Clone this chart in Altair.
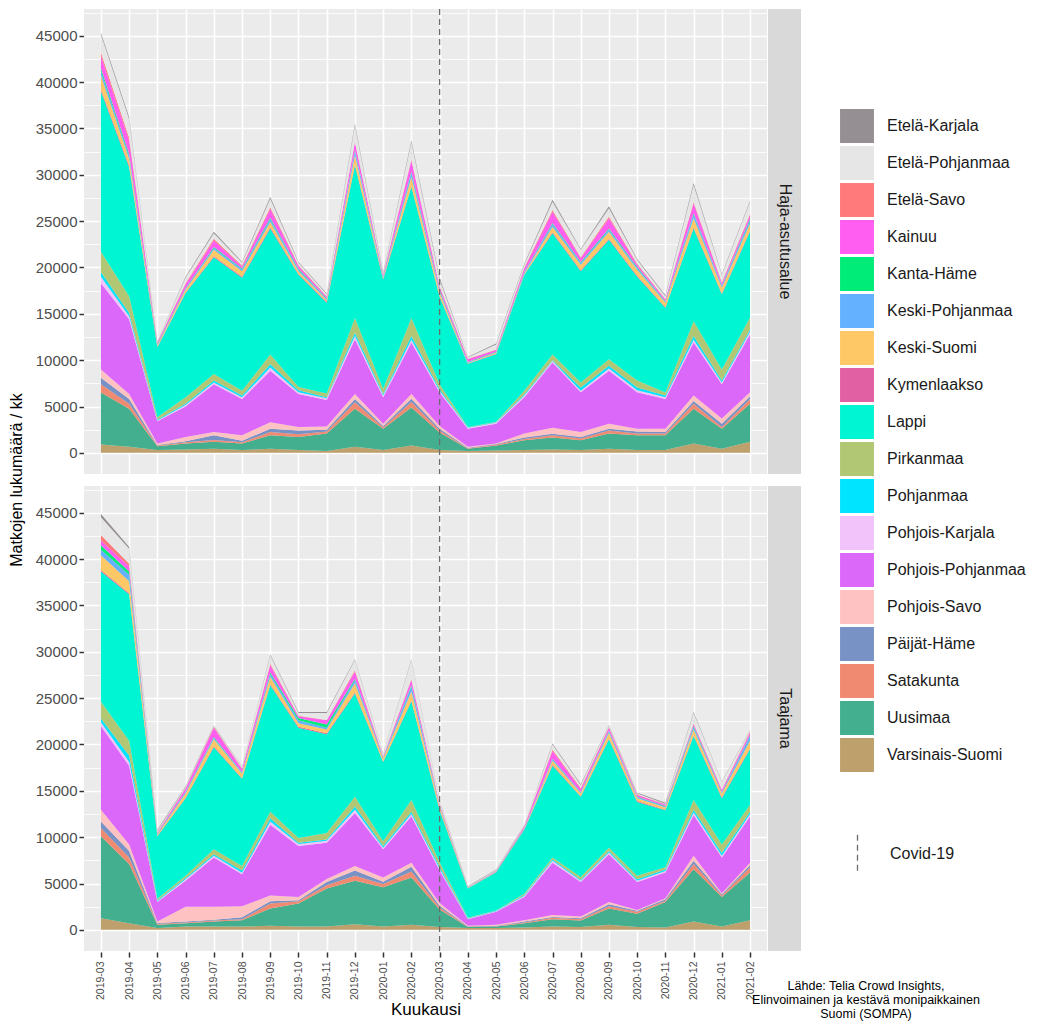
import altair as alt
import pandas as pd

MONTHS = ["2019-03", "2019-04", "2019-05", "2019-06", "2019-07", "2019-08",
          "2019-09", "2019-10", "2019-11", "2019-12", "2020-01", "2020-02",
          "2020-03", "2020-04", "2020-05", "2020-06", "2020-07", "2020-08",
          "2020-09", "2020-10", "2020-11", "2020-12", "2021-01", "2021-02"]

REGIONS = ["Etelä-Karjala", "Etelä-Pohjanmaa", "Etelä-Savo", "Kainuu", "Kanta-Häme",
           "Keski-Pohjanmaa", "Keski-Suomi", "Kymenlaakso", "Lappi", "Pirkanmaa",
           "Pohjanmaa", "Pohjois-Karjala", "Pohjois-Pohjanmaa", "Pohjois-Savo",
           "Päijät-Häme", "Satakunta", "Uusimaa", "Varsinais-Suomi"]

COLORS = ["#958F94", "#E6E6E6", "#FF7A7A", "#FF5EF0", "#00EC78",
          "#64B2FF", "#FFC866", "#E15FA3", "#00F5D2", "#B2C774",
          "#00E4FF", "#F2C3FA", "#DC68FA", "#FFC2C2",
          "#7892C6", "#F08A70", "#44AF8F", "#BEA06C"]

PANELS = ["Haja-asutusalue", "Taajama"]

# Stacked upper edge of each region's band, thousands of trips, bottom band first
HAJA_TOPS = {
    "Varsinais-Suomi": [0.9, 0.65, 0.3, 0.35, 0.45, 0.3, 0.45, 0.3, 0.2, 0.65, 0.3, 0.8,
                        0.3, 0.2, 0.25, 0.3, 0.35, 0.3, 0.45, 0.3, 0.3, 1.0, 0.45, 1.2],
    "Uusimaa": [6.5, 4.75, 0.7, 1.0, 1.2, 1.0, 1.9, 1.7, 2.1, 4.75, 2.6, 4.9,
                2.2, 0.45, 0.8, 1.35, 1.65, 1.35, 2.1, 1.9, 1.9, 4.75, 2.6, 5.3],
    "Satakunta": [7.4, 5.3, 0.8, 1.15, 1.4, 1.15, 2.25, 2.0, 2.3, 5.45, 2.75, 5.5,
                  2.4, 0.5, 0.9, 1.5, 1.9, 1.55, 2.4, 2.1, 2.1, 5.3, 2.8, 5.8],
    "Päijät-Häme": [8.1, 5.8, 0.85, 1.25, 1.9, 1.3, 2.6, 2.4, 2.5, 5.8, 2.9, 5.85,
                    2.6, 0.55, 0.95, 1.65, 2.05, 1.7, 2.6, 2.3, 2.25, 5.6, 3.15, 6.1],
    "Pohjois-Savo": [9.0, 6.35, 1.0, 1.7, 2.25, 1.9, 3.3, 2.8, 2.85, 6.35, 3.15, 6.35,
                     2.9, 0.65, 1.0, 2.1, 2.7, 2.25, 3.15, 2.6, 2.6, 6.2, 3.7, 6.55],
    "Pohjois-Pohjanmaa": [18.3, 14.4, 3.4, 5.0, 7.4, 5.8, 8.85, 6.35, 5.7, 12.25, 6.0, 11.9,
                          6.5, 2.6, 3.15, 6.0, 9.75, 6.55, 8.85, 6.55, 5.8, 11.9, 7.4, 12.8],
    "Pohjois-Karjala": [19.0, 14.75, 3.5, 5.15, 7.6, 6.0, 9.2, 6.55, 5.9, 12.6, 6.2, 12.2,
                        6.7, 2.7, 3.25, 6.15, 9.9, 6.7, 9.1, 6.75, 6.0, 12.2, 7.6, 13.1],
    "Pohjanmaa": [19.5, 15.1, 3.6, 5.3, 7.8, 6.2, 9.55, 6.75, 6.0, 12.95, 6.35, 12.6,
                  6.9, 2.75, 3.3, 6.3, 10.0, 7.05, 9.4, 7.05, 6.2, 12.6, 7.8, 13.3],
    "Pirkanmaa": [21.7, 16.9, 3.85, 6.0, 8.5, 6.7, 10.6, 7.1, 6.4, 14.55, 6.9, 14.55,
                  7.4, 2.8, 3.35, 6.7, 10.6, 7.6, 10.1, 7.8, 6.5, 14.2, 9.0, 14.6],
    "Lappi": [39.0, 30.8, 11.4, 17.25, 21.1, 18.9, 24.2, 19.2, 16.2, 31.0, 18.7, 28.7,
              16.8, 9.6, 10.65, 19.2, 23.7, 19.6, 23.0, 19.0, 15.65, 24.2, 17.1, 23.9],
    "Kymenlaakso": [39.2, 31.0, 11.45, 17.3, 21.2, 19.0, 24.35, 19.3, 16.3, 31.1, 18.8, 28.8,
                    16.9, 9.65, 10.7, 19.25, 23.8, 19.7, 23.1, 19.1, 15.7, 24.3, 17.2, 24.0],
    "Keski-Suomi": [40.7, 31.7, 11.6, 17.6, 21.9, 19.6, 24.9, 19.6, 16.5, 32.1, 18.9, 29.75,
                    17.3, 9.7, 10.8, 19.35, 24.4, 20.3, 23.85, 19.75, 16.2, 25.3, 17.8, 24.75],
    "Keski-Pohjanmaa": [41.2, 32.0, 11.7, 17.7, 22.1, 19.8, 25.2, 19.75, 16.6, 32.5, 19.0, 30.2,
                        17.5, 9.75, 10.85, 19.45, 24.7, 20.5, 24.1, 19.95, 16.3, 25.7, 18.0, 25.1],
    "Kanta-Häme": [41.5, 32.2, 11.75, 17.75, 22.2, 19.9, 25.35, 19.85, 16.65, 32.65, 19.05, 30.35,
                   17.6, 9.8, 10.9, 19.5, 24.8, 20.6, 24.2, 20.05, 16.35, 25.85, 18.05, 25.25],
    "Kainuu": [42.8, 33.7, 11.9, 18.2, 22.9, 20.1, 26.3, 20.15, 16.8, 33.5, 19.2, 31.5,
               17.9, 10.1, 11.1, 19.9, 26.0, 21.0, 25.3, 20.3, 16.55, 26.9, 18.3, 25.65],
    "Etelä-Savo": [43.2, 34.0, 11.95, 18.3, 23.1, 20.2, 26.5, 20.25, 16.9, 33.6, 19.3, 31.65,
                   18.0, 10.15, 11.15, 20.0, 26.2, 21.1, 25.5, 20.4, 16.6, 27.05, 18.4, 25.8],
    "Etelä-Pohjanmaa": [45.1, 36.0, 12.0, 18.9, 23.7, 20.5, 27.4, 20.5, 17.1, 35.3, 19.4, 33.5,
                        18.7, 10.3, 11.7, 20.3, 27.1, 21.9, 26.4, 20.8, 16.9, 28.9, 19.2, 27.1],
    "Etelä-Karjala": [45.3, 36.2, 12.05, 19.0, 23.85, 20.6, 27.6, 20.6, 17.2, 35.5, 19.5, 33.7,
                      18.9, 10.35, 11.8, 20.4, 27.3, 22.0, 26.6, 20.9, 17.0, 29.1, 19.3, 27.2],
}

TAAJAMA_TOPS = {
    "Varsinais-Suomi": [1.25, 0.7, 0.2, 0.35, 0.35, 0.35, 0.45, 0.35, 0.35, 0.6, 0.35, 0.55,
                        0.3, 0.2, 0.2, 0.25, 0.35, 0.3, 0.55, 0.3, 0.25, 0.9, 0.35, 1.05],
    "Uusimaa": [10.1, 7.1, 0.55, 0.7, 0.9, 1.05, 2.3, 2.85, 4.45, 5.3, 4.6, 5.65,
                2.2, 0.3, 0.35, 0.7, 1.15, 1.0, 2.3, 1.75, 3.0, 6.55, 3.55, 6.2],
    "Satakunta": [11.0, 7.8, 0.65, 0.8, 1.0, 1.15, 2.85, 3.1, 4.8, 5.85, 4.95, 6.3,
                  2.4, 0.35, 0.4, 0.8, 1.3, 1.15, 2.55, 1.95, 3.15, 7.1, 3.7, 6.75],
    "Päijät-Häme": [11.7, 8.5, 0.75, 0.9, 1.1, 1.35, 3.1, 3.2, 5.15, 6.4, 5.2, 6.8,
                    2.6, 0.4, 0.45, 0.9, 1.4, 1.25, 2.75, 2.05, 3.3, 7.45, 3.85, 7.0],
    "Pohjois-Savo": [12.95, 9.2, 0.9, 2.5, 2.5, 2.55, 3.7, 3.55, 5.5, 6.9, 5.65, 7.25,
                     2.9, 0.45, 0.55, 1.05, 1.6, 1.45, 3.0, 2.15, 3.4, 8.0, 3.95, 7.25],
    "Pohjois-Pohjanmaa": [22.0, 17.7, 3.0, 5.3, 7.8, 6.0, 11.35, 9.05, 9.4, 12.6, 8.7, 12.25,
                          6.4, 1.15, 1.95, 3.55, 7.25, 5.15, 8.15, 5.15, 6.2, 12.4, 7.8, 12.25],
    "Pohjois-Karjala": [22.4, 18.1, 3.1, 5.45, 8.0, 6.15, 11.7, 9.25, 9.6, 12.95, 8.85, 12.5,
                        6.6, 1.2, 2.0, 3.65, 7.45, 5.3, 8.35, 5.3, 6.35, 12.65, 8.0, 12.5],
    "Pohjanmaa": [22.8, 18.8, 3.2, 5.6, 8.15, 6.4, 12.05, 9.4, 9.75, 13.3, 9.05, 12.75,
                  6.8, 1.25, 2.05, 3.75, 7.6, 5.4, 8.5, 5.45, 6.5, 12.95, 8.3, 12.75],
    "Pirkanmaa": [24.6, 20.4, 3.35, 5.85, 8.7, 6.9, 12.75, 9.9, 10.45, 14.35, 9.55, 14.0,
                  7.3, 1.3, 2.1, 3.9, 7.8, 5.7, 8.85, 5.85, 6.75, 14.0, 9.2, 13.5],
    "Lappi": [38.65, 36.2, 10.1, 14.2, 19.7, 16.3, 26.4, 21.8, 21.1, 25.5, 18.1, 24.65,
              12.9, 4.45, 6.2, 10.8, 17.7, 14.35, 20.55, 13.8, 12.9, 20.9, 14.2, 19.5],
    "Kymenlaakso": [38.8, 36.3, 10.15, 14.25, 19.8, 16.35, 26.5, 21.9, 21.2, 25.6, 18.15, 24.75,
                    13.0, 4.47, 6.22, 10.85, 17.8, 14.4, 20.65, 13.9, 12.95, 21.0, 14.3, 19.6],
    "Keski-Suomi": [40.4, 37.6, 10.3, 14.7, 20.55, 16.85, 27.3, 22.3, 21.6, 26.6, 18.45, 25.7,
                    13.3, 4.5, 6.25, 10.9, 18.25, 14.7, 21.25, 14.2, 13.2, 21.6, 14.7, 20.4],
    "Keski-Pohjanmaa": [41.0, 38.3, 10.35, 14.85, 20.7, 16.95, 27.6, 22.6, 21.8, 26.95, 18.55, 26.25,
                        13.4, 4.52, 6.27, 10.95, 18.4, 14.8, 21.45, 14.3, 13.3, 21.85, 14.8, 20.9],
    "Kanta-Häme": [41.5, 38.65, 10.4, 14.9, 20.8, 17.0, 27.75, 22.85, 22.15, 27.1, 18.6, 26.4,
                   13.45, 4.54, 6.3, 11.0, 18.45, 14.85, 21.5, 14.35, 13.35, 22.0, 14.85, 21.0],
    "Kainuu": [42.0, 39.2, 10.5, 15.25, 21.8, 17.35, 28.55, 23.05, 22.6, 27.85, 18.7, 26.95,
               13.6, 4.58, 6.35, 11.15, 19.3, 15.2, 21.8, 14.55, 13.5, 22.2, 15.1, 21.3],
    "Etelä-Savo": [42.6, 39.5, 10.55, 15.3, 21.9, 17.4, 28.7, 23.1, 22.65, 28.0, 18.75, 27.05,
                   13.65, 4.6, 6.38, 11.2, 19.45, 15.3, 21.9, 14.6, 13.55, 22.3, 15.15, 21.4],
    "Etelä-Pohjanmaa": [44.5, 41.1, 10.7, 15.4, 22.0, 17.55, 29.6, 23.4, 23.4, 29.1, 18.95, 29.1,
                        13.95, 4.65, 6.45, 11.3, 20.0, 15.6, 22.05, 14.7, 13.6, 23.4, 15.95, 21.5],
    "Etelä-Karjala": [44.85, 41.3, 10.8, 15.5, 22.05, 17.6, 29.7, 23.5, 23.5, 29.2, 19.0, 29.2,
                      14.0, 4.7, 6.5, 11.35, 20.1, 15.7, 22.1, 14.8, 13.7, 23.5, 16.0, 21.55],
}

CAPTION = ["Lähde: Telia Crowd Insights," + "\u2003" * 3,
           "Elinvoimainen ja kestävä monipaikkainen",
           "Suomi (SOMPA)"]

STACK_BOTTOM_UP = list(reversed(REGIONS))

rows = []
for panel, tops in zip(PANELS, [HAJA_TOPS, TAAJAMA_TOPS]):
    prev = [0.0] * len(MONTHS)
    for k, region in enumerate(STACK_BOTTOM_UP):
        cur = tops[region]
        for i, m in enumerate(MONTHS):
            rows.append({"Alue": panel, "Maakunta": region, "Kuukausi": m,
                         "Matkat": max(0.0, (cur[i] - prev[i]) * 1000), "jarj": k})
        prev = cur
df = pd.DataFrame(rows)

W, H = 683, 465
FONT = "Liberation Sans"
major = "datum.value % 5000 == 0"

x_enc = alt.X("Kuukausi:O", sort=MONTHS,
              scale=alt.Scale(type="point", padding=0.6),
              axis=alt.Axis(title="Kuukausi", labelAngle=270, labelFontSize=10.5,
                            labelColor="#4D4D4D", tickColor="#333333", tickSize=5,
                            tickWidth=1.5, domain=False, grid=True, gridColor="white",
                            gridWidth=1.6, titleFontSize=17, titleFontWeight="normal",
                            titleColor="#000000", titlePadding=2, labelPadding=4))

y_enc = alt.Y("Matkat:Q", stack="zero",
              scale=alt.Scale(domain=[-2280, 47880], nice=False, zero=False),
              axis=alt.Axis(title=None,
                            values=list(range(0, 47501, 2500)), format="d",
                            labelExpr=f"{major} ? datum.label : ''",
                            labelFontSize=15, labelColor="#4D4D4D",
                            tickColor="#333333", tickSize=5, tickWidth=1.5,
                            tickOpacity={"condition": {"test": major, "value": 1}, "value": 0},
                            domain=False, grid=True, gridColor="white",
                            gridWidth={"condition": {"test": major, "value": 1.6}, "value": 0.8},
                            labelPadding=2))

area = alt.Chart().mark_area(interpolate="linear").encode(
    x=x_enc,
    y=y_enc,
    color=alt.Color("Maakunta:N",
                    scale=alt.Scale(domain=REGIONS, range=COLORS),
                    legend=alt.Legend(title=None, orient="none", legendX=756, legendY=100,
                                      symbolType="square", symbolSize=1150,
                                      symbolStrokeWidth=0, labelFontSize=16,
                                      labelColor="#1A1A1A", labelOffset=13,
                                      rowPadding=3, labelLimit=250)),
    order=alt.Order("jarj:Q", sort="ascending"),
)

covid = alt.Chart().transform_filter(
    "datum.Kuukausi == '2020-03' && datum.jarj == 0"
).transform_calculate(tapahtuma="'Covid-19'").mark_rule(
    color="#6B6B6B", strokeWidth=1.3
).encode(
    x=x_enc,
    strokeDash=alt.StrokeDash("tapahtuma:N",
                              scale=alt.Scale(domain=["Covid-19"], range=[[6, 4]]),
                              legend=alt.Legend(title=None, orient="none",
                                                legendX=754, legendY=825,
                                                symbolType="M0,-1L0,1", symbolSize=1400,
                                                symbolStrokeColor="#6B6B6B",
                                                symbolStrokeWidth=1.3,
                                                labelFontSize=16, labelColor="#1A1A1A",
                                                labelOffset=13)),
)

strip_data = alt.Chart().transform_filter(
    "datum.Kuukausi == '2019-03' && datum.jarj == 0")

strip = strip_data.mark_rect(color="#D9D9D9").encode(
    x=alt.value(W + 1), x2=alt.value(W + 34), y=alt.value(0), y2=alt.value(H))

strip_text = strip_data.mark_text(angle=90, fontSize=16, color="#1A1A1A").encode(
    text="Alue:N", x=alt.value(W + 17.5), y=alt.value(H / 2))

chart = alt.layer(area, covid, strip, strip_text, data=df).properties(
    width=W, height=H
).facet(
    row=alt.Row("Alue:N", sort=PANELS,
                header=alt.Header(labels=False, title="Matkojen lukumäärä / kk",
                                  titleFontSize=16, titleFontWeight="normal",
                                  titleColor="#000000", titlePadding=0)),
    spacing=10,
).properties(
    padding={"left": 0, "top": 0, "right": 0, "bottom": 0},
    title=alt.TitleParams(text=CAPTION, orient="bottom", anchor="end", align="center",
                          fontSize=12.5, fontWeight="normal", color="#000000",
                          lineHeight=14, offset=-38, dx=-160, font=FONT),
).configure(font=FONT).configure_view(fill="#EBEBEB", stroke=None)

chart.save("out.html", embed_options={"renderer": "svg", "actions": False})
